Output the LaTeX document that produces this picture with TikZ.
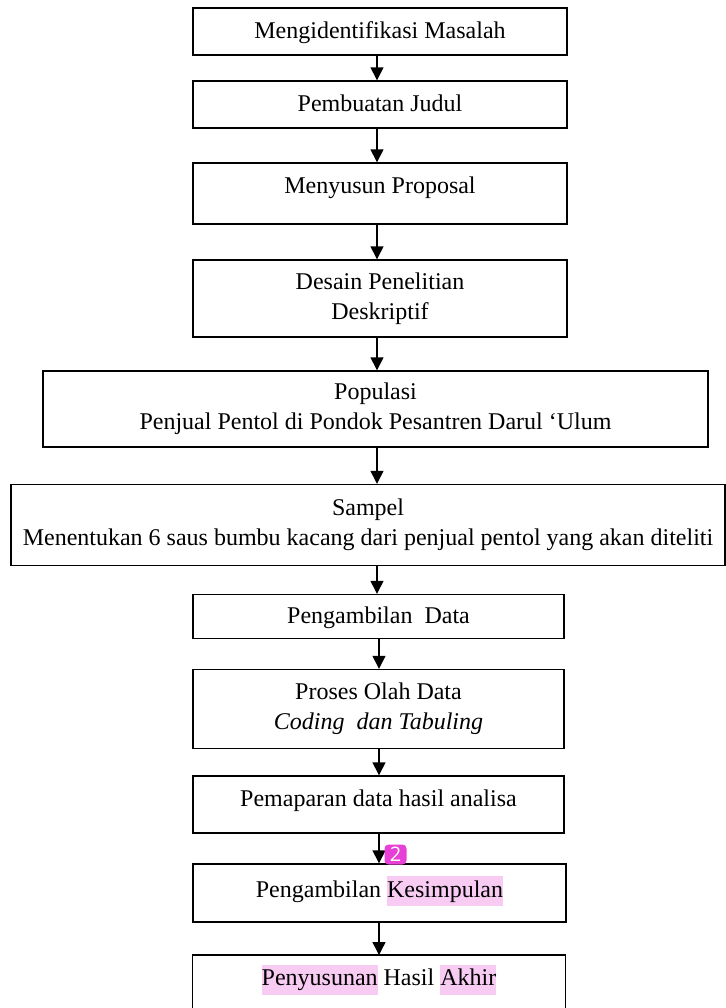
\documentclass[tikz,border=0pt]{standalone}
\usepackage{fontspec}
\setmainfont{Liberation Serif}
\newfontfamily\badgefont{Open Sans}
\usetikzlibrary{shapes.geometric, arrows.meta}
\definecolor{hlpink}{RGB}{248,204,242}
\definecolor{badgemag}{RGB}{230,64,214}
\newcommand{\hl}[1]{{\setlength{\fboxsep}{0pt}\colorbox{hlpink}{\strut #1}}}
\tikzstyle{stage} = [rectangle, text centered, align=center, draw=black, line width=0.7pt, font=\fontsize{12}{15}\selectfont]
\tikzstyle{arrow} = [-{Triangle[length=6.5pt,width=6.5pt]}, line width=0.7pt]
\tikzstyle{badge} = [rectangle, rounded corners=2pt, fill=badgemag, text=white, minimum width=11pt, minimum height=10pt, inner sep=0pt, font=\badgefont\fontsize{10}{10}\selectfont]

\begin{document}
\begin{tikzpicture}[x=0.5pt, y=-0.5pt]
\useasboundingbox (0,0) rectangle (725,1008);

\coordinate (axisA) at (377,0);
\coordinate (axisB) at (379,0);

\node at (380,31.5) (ident) [stage, minimum width=187pt, minimum height=23.5pt, text depth=1pt] {Mengidentifikasi Masalah};

\node at (380,104.5) (judul) [stage, minimum width=187pt, minimum height=23.5pt, text depth=1pt] {Pembuatan Judul};
\draw[arrow] (axisA |- ident.south) -- (axisA |- judul.north);

\node at (380,193.5) (proposal) [stage, minimum width=187pt, minimum height=30.5pt, text depth=8pt] {Menyusun Proposal};
\draw[arrow] (axisA |- judul.south) -- (axisA |- proposal.north);

\node at (380,298.5) (desain) [stage, minimum width=187pt, minimum height=38.5pt] {Desain Penelitian\\ Deskriptif};
\draw[arrow] (axisA |- proposal.south) -- (axisA |- desain.north);

\node at (375.5,409) (populasi) [stage, minimum width=332.5pt, minimum height=38pt] {Populasi\\ Penjual Pentol di Pondok Pesantren Darul `Ulum};
\draw[arrow] (axisA |- desain.south) -- (axisA |- populasi.north);

\node at (368,525) (sampel) [stage, minimum width=357pt, minimum height=40.5pt] {Sampel\\ Menentukan 6 saus bumbu kacang dari penjual pentol yang akan diteliti};
\draw[arrow] (axisA |- populasi.south) -- (axisA |- sampel.north);

\node at (378.5,616.5) (ambil) [stage, minimum width=185.5pt, minimum height=22pt, text depth=1pt] {Pengambilan\ \ Data};
\draw[arrow] (axisA |- sampel.south) -- (axisA |- ambil.north);

\node at (378.5,709) (olah) [stage, minimum width=185.5pt, minimum height=39.5pt] {Proses Olah Data\\ \textit{Coding\ \ dan Tabuling}};
\draw[arrow] (axisB |- ambil.south) -- (axisB |- olah.north);

\node at (378.5,804.5) (papar) [stage, minimum width=185.5pt, minimum height=28.5pt, text depth=6pt] {Pemaparan data hasil analisa};
\draw[arrow] (axisB |- olah.south) -- (axisB |- papar.north);

\node at (379.5,893) (simpul) [stage, minimum width=186.5pt, minimum height=29pt, text depth=6.5pt] {Pengambilan \hl{Kesimpulan}};
\draw[arrow] (axisB |- papar.south) -- (axisB |- simpul.north);

\node at (379,955) (akhir) [stage, draw=none, anchor=north, minimum width=186pt, minimum height=24pt] {\hl{Penyusunan} Hasil \hl{Akhir}};
\draw[line width=0.7pt] ([yshift=-20pt]akhir.south west) -- (akhir.north west) -- (akhir.north east) -- ([yshift=-20pt]akhir.south east);
\draw[arrow] (axisB |- simpul.south) -- (axisB |- akhir.north);

\node at (395.5,854.5) (nomor) [badge] {2};

\end{tikzpicture}
\end{document}
